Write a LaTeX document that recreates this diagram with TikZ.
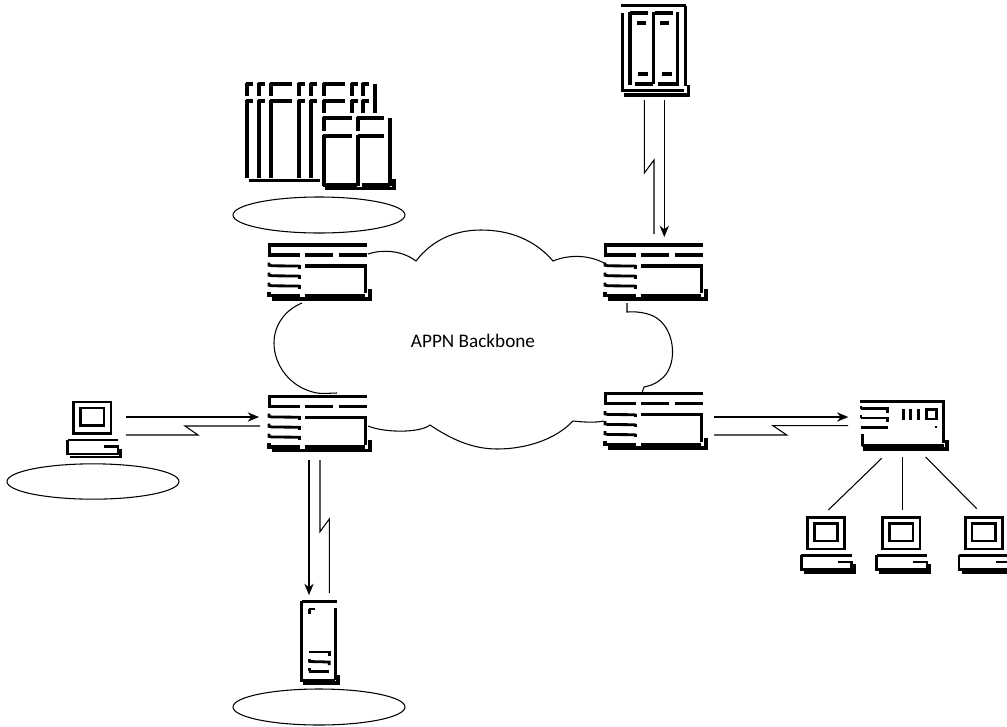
\documentclass[tikz,border=0pt]{standalone}
\usepackage{fontspec}
\setmainfont{Carlito}
\usetikzlibrary{arrows.meta,shapes.geometric}
\tikzset{
  heavy/.style={line width=2.5pt,black},
  mid/.style={line width=2.1pt,black},
  shade/.style={line width=2.8pt,black},
  link/.style={line width=0.8pt,black},
  linkarrow/.style={link,-{Stealth[length=8.5pt,width=7pt]}},
  cloudline/.style={line width=0.8pt,black},
  ring/.style={draw,ellipse,line width=0.8pt,inner sep=0pt,fill=white},
  routerpic/.pic={
    \draw[heavy] (0,1.7)--(99,1.7);
    \draw[heavy] (1.5,0.2)--(1.5,13);
    \draw[heavy] (0.4,11.7)--(32,11.7) (37,11.7)--(65,11.7) (71,11.7)--(99,11.7);
    \foreach \yy in {22.7,32.7,42.7}{
      \draw[mid] (1,\yy-3.5)--(1,\yy-0.8)--(4,\yy-0.2)--(31.5,\yy);
      \draw[heavy] (31.5,\yy-1)--(31.5,\yy+2.6);
    }
    \draw[heavy] (37,22.7)--(99,22.7);
    \draw[heavy] (97.7,21.2)--(97.7,50);
    \draw[heavy] (1,48.5)--(1,52.5)--(32,52.5) (37,52.5)--(97,52.5);
    \draw[shade] (4,56)--(102.5,56);
    \draw[heavy] (102,45.5)--(102,57.5);
  },
  pcpic/.pic={
    \draw[mid] (6.8,1.5) rectangle (44,33);
    \draw[mid] (13.5,7.5) rectangle (37,25);
    \draw[mid] (0.5,39.5)--(51,39.5) (0.5,39)--(0.5,53.5)--(51,53.5)--(51,46)--(37,46);
    \draw[mid] (3,56.5)--(53.5,56.5)--(53.5,48);
  },
  hubpic/.pic={
    \draw[mid] (0,1.7)--(83.5,1.7)--(83.5,43);
    \draw[mid] (0.5,8.5)--(27.5,8.5)--(27.5,12.5) (1,5.5)--(1,9);
    \draw[mid] (1,18)--(27.5,18)--(27.5,21.5) (1,15)--(1,18);
    \draw[heavy] (0.5,27.5)--(27.5,27.5);
    \draw[heavy] (2.3,34)--(2.3,46);
    \draw[mid] (2.3,45.8)--(83.5,45.8);
    \draw[shade] (3,49.3)--(88,49.3);
    \draw[heavy] (87,39.5)--(87,50.5);
    \draw[heavy] (43.3,8.5)--(43.3,20) (50.7,8.5)--(50.7,20) (58.3,8.5)--(58.3,20);
    \draw[mid] (66.5,9.5) rectangle (76.5,19);
    \fill (74.5,25.5) rectangle (77,28);
  },
  towerpic/.pic={
    \draw[heavy] (0,0.8)--(35.5,0.8);
    \draw[heavy] (0,-0.3)--(0,79.5)--(33,79.5) (33.5,6.5)--(33.5,79);
    \draw[shade] (1.5,82.3)--(37.5,82.3);
    \draw[heavy] (36.3,73.5)--(36.3,83.5);
    \draw[mid] (7,8)--(13.5,8) (7.9,8)--(7.9,13);
    \draw[mid] (7,51)--(27.5,51)--(27.5,55);
    \draw[mid] (7.7,58)--(7.7,61) (7,60.5)--(27.5,61)--(27.5,64);
    \draw[mid] (7.7,67)--(7.7,70.2) (7,70.2)--(27.5,70.2);
  },
  rackpic/.pic={
    \draw[heavy] (-1,0.8)--(64,0.8);
    \draw[mid] (63.5,0.7)--(63.5,81);
    \draw[heavy] (0.5,7.5)--(0.5,86.5) (-0.7,85.7)--(62,85.7);
    \draw[shade] (2,90)--(67.5,90);
    \draw[heavy] (66.5,80)--(66.5,91.3);
    \draw[heavy] (8,8)--(26,8) (33,8)--(51,8);
    \draw[heavy] (8,7)--(8,79.5) (31.5,7)--(31.5,79) (55.5,7)--(55.5,79.5);
    \draw[heavy] (12.5,79)--(31,79) (36,79)--(56.5,79);
    \draw[heavy] (15,18)--(24,18) (38,18)--(47,18);
    \draw[heavy] (16,69)--(26,69) (40,69)--(50,69);
  },
}
\newcommand{\backcab}[1]{%
  \foreach \xx/\ww in {0/7,12/7,24/22,52/7,64/7,77/22,105/7,116/7}{
    \draw[heavy] (#1+\xx,84)--(#1+\xx+\ww,84);
    \draw[heavy] (#1+\xx+1,83)--(#1+\xx+1,96);
    \draw[heavy] (#1+\xx,101)--(#1+\xx+\ww,101);
    \draw[heavy] (#1+\xx+1,100)--(#1+\xx+1,178);
  }%
}
\begin{document}
\begin{tikzpicture}[x=0.75pt,y=-0.75pt]
\useasboundingbox (0,0) rectangle (1007,726);

% cloud
\draw[cloudline] (368,254)
  .. controls (380,250) and (400,249) .. (416,261)
  .. controls (432,240) and (455,230) .. (481,230)
  .. controls (510,230) and (535,240) .. (553,261)
  .. controls (570,254) and (590,255) .. (606,264)
  (627,303)--(627,312)
  .. controls (640,311) and (652,314) .. (658,319)
  .. controls (676,332) and (678,368) .. (660,380)
  .. controls (654,385) and (648,386) .. (644,387)
  -- (642,393)
  (604,421) .. controls (594,423) and (583,422) .. (573,421)
  .. controls (555,440) and (525,449) .. (497,449)
  .. controls (470,449) and (448,437) .. (430,425)
  .. controls (420,433) and (385,433) .. (368,426)
  (337,393) .. controls (330,393) and (325,394) .. (317,393)
  .. controls (290,388) and (274,365) .. (274,343)
  .. controls (274,325) and (285,310) .. (302,303);

\pic (routerTL) at (268,243.3) {routerpic};
\pic (routerTR) at (604,243.3) {routerpic};
\pic (routerBL) at (268,394.5) {routerpic};
\pic (routerBR) at (604,392) {routerpic};

\node (label) at (473,341) {\fontsize{14.4pt}{16pt}\selectfont APPN Backbone};

% cluster of frames
\backcab{246}
\draw[shade] (249,180.5)--(323,180.5);
\draw[heavy] (375,84)--(375,114);
\fill[white] (320,113) rectangle (397,195);
\draw[heavy] (323,118)--(352,118) (357,118)--(384,118);
\draw[heavy] (324,117)--(324,131) (358,117)--(358,131);
\draw[heavy] (323,136)--(352,136) (358,136)--(384,136);
\draw[heavy] (324,135)--(324,186) (358,135)--(358,186);
\draw[heavy] (390,118)--(390,186);
\draw[heavy] (323,185)--(357,185) (362,185)--(390,185);
\draw[shade] (325,188.5)--(395,188.5);
\draw[heavy] (394,179)--(394,190);

\pic (rack) at (622,5) {rackpic};
\pic (tower) at (301.7,601) {towerpic};
\pic (hub) at (860,400) {hubpic};
\pic (pcL) at (67,400.5) {pcpic};
\pic (pc1) at (800.8,516) {pcpic};
\pic (pc2) at (876,516) {pcpic};
\pic (pc3) at (958.5,516) {pcpic};

\node[ring,minimum width=129pt,minimum height=27pt] (ellTL) at (319,215) {};
\node[ring,minimum width=129pt,minimum height=26.5pt] (ellL) at (93,481.5) {};
\node[ring,minimum width=129pt,minimum height=27pt] (ellB) at (319,707) {};

% link end points
\coordinate (aLs) at (126,417);   \coordinate (aLe) at (259,417);
\coordinate (bLs) at (260,426);   \coordinate (bLa) at (185,426);
\coordinate (bLb) at (198,435);   \coordinate (bLe) at (126,435);
\coordinate (aBs) at (309,460);   \coordinate (aBe) at (309,595);
\coordinate (bBs) at (320,460);   \coordinate (bBa) at (320,531.7);
\coordinate (bBb) at (329.3,519); \coordinate (bBe) at (329.3,593);
\coordinate (aTs) at (664.3,100); \coordinate (aTe) at (664.3,237);
\coordinate (bTs) at (644.3,100); \coordinate (bTa) at (644.3,173);
\coordinate (bTb) at (654,160);   \coordinate (bTe) at (654,234);
\coordinate (aRs) at (714,417);   \coordinate (aRe) at (848.3,417);
\coordinate (bRs) at (848,425.7); \coordinate (bRa) at (773,425.7);
\coordinate (bRb) at (786.7,435); \coordinate (bRe) at (714,435);
\coordinate (h1) at (881.7,458.3); \coordinate (p1) at (828.3,510);
\coordinate (h2) at (902.3,457);   \coordinate (p2) at (902.3,510);
\coordinate (h3) at (925.7,457);   \coordinate (p3) at (976.7,508.7);

\draw[linkarrow] (aLs)--(aLe);
\draw[link] (bLs)--(bLa)--(bLb)--(bLe);
\draw[linkarrow] (aBs)--(aBe);
\draw[link] (bBs)--(bBa)--(bBb)--(bBe);
\draw[linkarrow] (aTs)--(aTe);
\draw[link] (bTs)--(bTa)--(bTb)--(bTe);
\draw[linkarrow] (aRs)--(aRe);
\draw[link] (bRs)--(bRa)--(bRb)--(bRe);
\draw[link] (h1)--(p1);
\draw[link] (h2)--(p2);
\draw[link] (h3)--(p3);
\end{tikzpicture}
\end{document}
